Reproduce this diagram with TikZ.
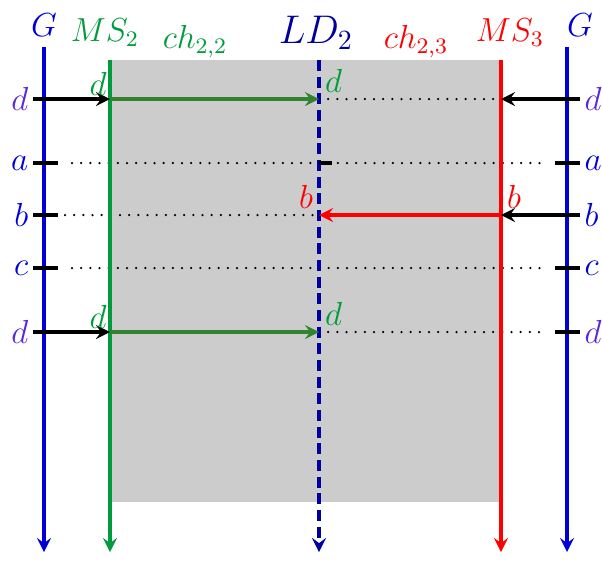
\documentclass[tikz,border=0pt]{standalone}
\usepackage{amsmath}
\usepackage{amssymb}
\usetikzlibrary{arrows}
\definecolor{msgreen}{RGB}{0,155,60}
\definecolor{chgreen}{RGB}{50,130,50}
\definecolor{ldblue}{RGB}{0,0,160}
\definecolor{gblue}{RGB}{0,0,215}
\definecolor{dviolet}{RGB}{90,40,220}

\begin{document}
\begin{tikzpicture}[x=0.36pt, y=-0.36pt,
				   life/.style={line width=1.2pt, -stealth},
				   msg/.style={line width=1.2pt, -stealth},
				   tick/.style={line width=1.3pt, black},
				   dots/.style={line width=0.9pt, line cap=round, dash pattern=on 0pt off 3.3pt},
				   rowl/.style={anchor=east, inner sep=1.5pt, font=\large},
				   rowr/.style={anchor=west, inner sep=1.5pt, font=\large}]
\useasboundingbox (0,0) rectangle (602,560);

% lifelines: G, MS_2, LD_2, MS_3, G
\foreach \c/\x/\t in {gl/44/47, ms2/110/60, ld2/319/60, ms3/501/60, gr/567/47}{
	\coordinate (\c-top) at (\x,\t);
	\coordinate (\c-bot) at (\x,552);
	\foreach \r/\y in {d1/99, a/163, b/215, c/268, d2/332}
		\coordinate (\c-\r) at (\x,\y);
}
\coordinate (box-end) at (501,502);

\fill[gray!40] (ms2-top) rectangle (box-end);

% headings
\node[gblue, font=\large] (G1) at (44,25) {$G$};
\node[msgreen, font=\large] (MS2) at (105,33) {$MS_2$};
\node[msgreen, font=\large] (ch22) at (195,42) {$ch_{2,2}$};
\node[ldblue, font=\Large] (LD2) at (316,33) {$LD_2$};
\node[red, font=\large] (ch23) at (416,42) {$ch_{2,3}$};
\node[red, font=\large] (MS3) at (510,33) {$MS_3$};
\node[gblue, font=\large] (G2) at (580,25) {$G$};

% row labels
\node[rowl, dviolet] (l-d1) at (33,99) {$d$};
\node[rowl, gblue] (l-a) at (33,163) {$a$};
\node[rowl, gblue] (l-b) at (33,215) {$b$};
\node[rowl, gblue] (l-c) at (33,268) {$c$};
\node[rowl, dviolet] (l-d2) at (33,332) {$d$};
\node[rowr, dviolet] (r-d1) at (580,99) {$d$};
\node[rowr, gblue] (r-a) at (580,163) {$a$};
\node[rowr, gblue] (r-b) at (580,215) {$b$};
\node[rowr, gblue] (r-c) at (580,268) {$c$};
\node[rowr, dviolet] (r-d2) at (580,332) {$d$};

% dotted rows
\draw[dots] (ld2-d1) -- (ms3-d1);
\draw[dots] (72,163) -- (548,163);
\draw[dots] (65,215) -- (ld2-b);
\draw[dots] (72,268) -- (548,268);
\draw[dots] (ld2-d2) -- (548,332);

% lifelines
\draw[life, gblue] (gl-top) -- (gl-bot);
\draw[life, msgreen] (ms2-top) -- (ms2-bot);
\draw[life, ldblue, dash pattern=on 4pt off 2pt] (ld2-top) -- (ld2-bot);
\draw[life, red] (ms3-top) -- (ms3-bot);
\draw[life, gblue] (gr-top) -- (gr-bot);

% ticks
\foreach \r in {a, b, c}
	\draw[tick] (l-\r.east) -- ++(25,0);
\foreach \r in {a, c, d2}
	\draw[tick] (r-\r.west) -- ++(-25,0);
\draw[tick] (ld2-a) -- ++(13,0);

% messages
\draw[msg, black] (l-d1.east) -- (ms2-d1);
\draw[msg, chgreen] (ms2-d1) -- (ld2-d1);
\draw[msg, black] (r-d1.west) -- (ms3-d1);
\draw[msg, black] (r-b.west) -- (ms3-b);
\draw[msg, red] (ms3-b) -- (ld2-b);
\draw[msg, black] (l-d2.east) -- (ms2-d2);
\draw[msg, chgreen] (ms2-d2) -- (ld2-d2);

% message labels
\node[msgreen, font=\large, anchor=south east, inner sep=1pt] (m1) at (ms2-d1) {$d$};
\node[msgreen, font=\large, anchor=south west, inner sep=2pt] (m2) at (ld2-d1) {$d$};
\node[red, font=\large, anchor=south east, inner sep=2pt] (m3) at (ld2-b) {$b$};
\node[red, font=\large, anchor=south west, inner sep=2pt] (m4) at (ms3-b) {$b$};
\node[msgreen, font=\large, anchor=south east, inner sep=1pt] (m5) at (ms2-d2) {$d$};
\node[msgreen, font=\large, anchor=south west, inner sep=2pt] (m6) at (ld2-d2) {$d$};
\end{tikzpicture}
\end{document}
